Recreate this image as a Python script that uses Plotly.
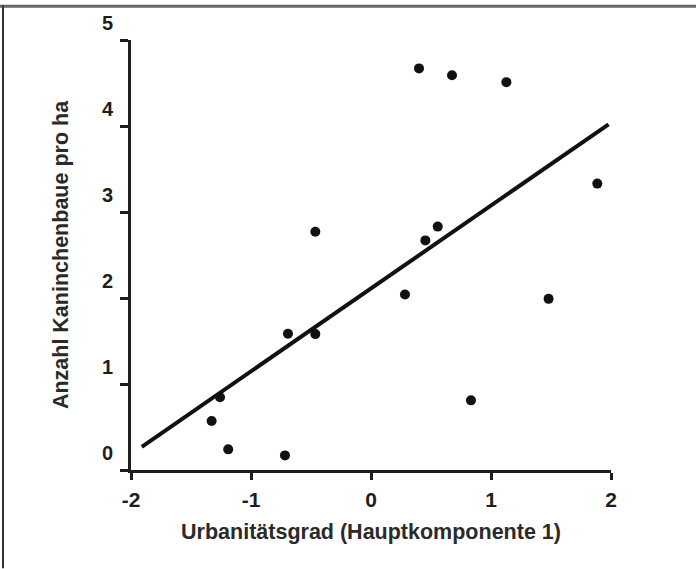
import plotly.graph_objects as go

# ---- data ----
urbanitaet = [0.40, 0.675, 1.128, 1.886, -0.464, 0.556, 0.453, -0.692, -0.464,
              -1.258, -1.328, -1.19, -0.717, 0.283, 1.48, 0.833]
kaninchenbaue = [4.67, 4.59, 4.51, 3.33, 2.77, 2.83, 2.67, 1.585, 1.58,
                 0.846, 0.57, 0.24, 0.17, 2.04, 1.99, 0.81]
fit_x = [-1.91, 1.98]
fit_y = [0.27, 4.02]
x_ticks = [-2, -1, 0, 1, 2]
y_ticks = [0, 1, 2, 3, 4, 5]
x_title = "Urbanitätsgrad (Hauptkomponente 1)"
y_title = "Anzahl Kaninchenbaue pro ha"

# ---- layout geometry (pixels) ----
W, H = 696, 569
ML, MR, MT, MB = 131, 85, 37, 99
PW, PH = W - ML - MR, H - MT - MB


def px_x(p):
    return (p - ML) / PW


def px_y(p):
    return (H - MB - p) / PH


FONT = "Liberation Sans, Arial, Helvetica, sans-serif"
INK = "#1e1e1e"

fig = go.Figure()
fig.add_trace(go.Scatter(x=fit_x, y=fit_y, mode="lines",
                         line=dict(color="#111111", width=4),
                         showlegend=False, hoverinfo="skip"))
fig.add_trace(go.Scatter(x=urbanitaet, y=kaninchenbaue, mode="markers",
                         marker=dict(color="#111111", size=10),
                         showlegend=False))

fig.update_layout(
    width=W, height=H,
    margin=dict(l=ML, r=MR, t=MT, b=MB, pad=0),
    paper_bgcolor="white", plot_bgcolor="white",
    font=dict(family=FONT, color=INK, weight="bold"),
    shapes=[
        dict(type="line", xref="paper", yref="paper",
             x0=px_x(0), x1=px_x(W), y0=px_y(3), y1=px_y(3),
             line=dict(color="#666666", width=3)),
        dict(type="line", xref="paper", yref="paper",
             x0=px_x(3), x1=px_x(3), y0=px_y(2), y1=px_y(H),
             line=dict(color="#333333", width=2)),
    ],
)

fig.update_xaxes(
    range=[-2, 2], tickvals=x_ticks, ticktext=[str(v) for v in x_ticks],
    showgrid=False, zeroline=False, showline=True, linecolor=INK, linewidth=3,
    ticks="outside", ticklen=7, tickwidth=3, tickcolor=INK,
    tickfont=dict(family=FONT, size=21, color=INK, weight="bold"),
    ticklabelstandoff=2,
    title=dict(text=x_title, standoff=14,
               font=dict(family=FONT, size=21.5, color="#2a2a2a", weight="bold")),
)
fig.update_yaxes(
    range=[0, 5], tickvals=y_ticks, ticktext=[str(v) for v in y_ticks],
    showgrid=False, zeroline=False, showline=True, linecolor=INK, linewidth=3,
    ticks="outside", ticklen=8, tickwidth=3, tickcolor=INK,
    tickfont=dict(family=FONT, size=20, color=INK, weight="bold"),
    ticklabelshift=-17, ticklabelstandoff=3,
    title=dict(text=y_title, standoff=28,
               font=dict(family=FONT, size=21.5, color="#2a2a2a", weight="bold")),
)

fig.write_html("out.html", config={"displayModeBar": False},
               post_script="document.body.style.margin='0';")
